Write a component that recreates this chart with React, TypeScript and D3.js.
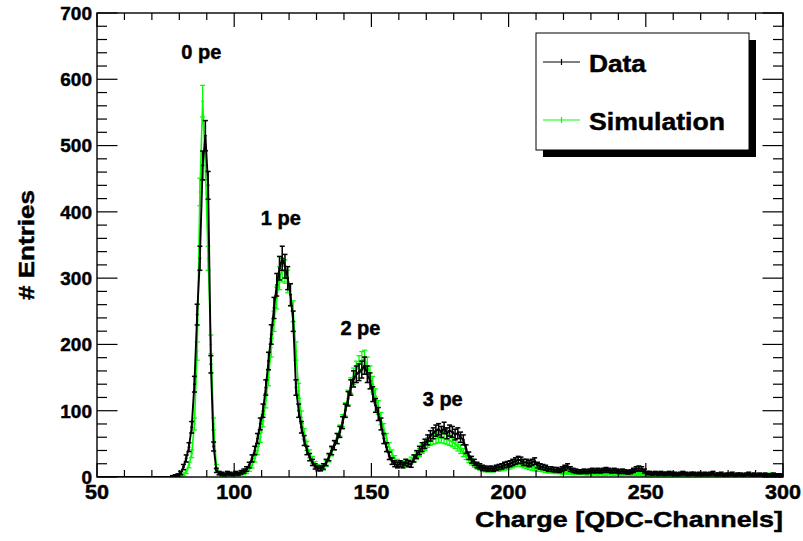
import React from "react";
import * as d3 from "d3";

// Histogram bins: channel 50 .. 299, bin width 1
const binStart = 50;
const binWidth = 1;

const dataCounts = [
  0, 0, 0, 0, 0, 0, 0, 0, 0, 0,
  0, 0, 0, 0, 0, 0, 0, 0, 0, 0,
  0, 0, 0, 0, 0, 0, 0, 1, 2, 3,
  6, 15, 28, 45, 75, 140, 245, 330, 470, 515,
  440, 170, 46, 10, 6, 5, 4, 6, 5, 4,
  6, 5, 7, 9, 12, 18, 28, 40, 58, 80,
  100, 135, 175, 215, 255, 290, 315, 330, 318, 300,
  275, 235, 135, 100, 75, 55, 40, 30, 22, 16,
  13, 13, 16, 22, 30, 40, 48, 58, 68, 82,
  100, 118, 135, 148, 155, 158, 162, 168, 155, 145,
  125, 108, 95, 80, 58, 45, 32, 24, 20, 18,
  20, 18, 22, 20, 19, 28, 34, 40, 45, 50,
  56, 62, 66, 70, 72, 68, 74, 66, 70, 68,
  64, 66, 60, 56, 42, 32, 26, 22, 18, 16,
  14, 13, 12, 13, 12, 14, 15, 16, 18, 19,
  20, 22, 24, 26, 25, 22, 22, 20, 22, 24,
  18, 16, 15, 14, 12, 12, 11, 11, 10, 12,
  14, 16, 12, 10, 9, 8, 8, 9, 8, 9,
  10, 9, 10, 9, 10, 11, 10, 9, 10, 9,
  8, 9, 8, 7, 8, 10, 12, 13, 12, 9,
  6, 6, 5, 6, 5, 6, 5, 5, 6, 5,
  5, 4, 5, 6, 5, 4, 5, 5, 4, 5,
  4, 5, 4, 5, 6, 4, 4, 5, 3, 4,
  4, 5, 3, 4, 4, 3, 4, 5, 3, 4,
  3, 4, 3, 4, 3, 3, 4, 3, 3, 3,
];

const simCounts = [
  0, 0, 0, 0, 0, 0, 0, 0, 0, 0,
  0, 0, 0, 0, 0, 0, 0, 0, 0, 0,
  0, 0, 0, 0, 0, 0, 0, 0, 1, 1,
  2, 4, 8, 18, 35, 80, 190, 430, 567, 470,
  330, 200, 80, 15, 5, 3, 3, 3, 4, 4,
  4, 4, 5, 6, 8, 12, 18, 28, 40, 60,
  85, 115, 150, 195, 235, 270, 300, 312, 310, 295,
  275, 250, 190, 130, 90, 65, 47, 35, 26, 19,
  15, 13, 14, 20, 28, 38, 48, 58, 70, 85,
  102, 120, 138, 152, 162, 170, 176, 178, 168, 155,
  140, 122, 105, 88, 72, 58, 45, 35, 27, 22,
  20, 19, 20, 22, 25, 28, 32, 37, 42, 47,
  52, 55, 57, 58, 60, 59, 58, 57, 55, 53,
  50, 46, 42, 37, 32, 27, 23, 19, 16, 14,
  12, 11, 11, 11, 11, 12, 12, 13, 14, 15,
  16, 18, 20, 21, 20, 18, 17, 15, 14, 13,
  12, 12, 11, 10, 9, 9, 8, 8, 8, 7,
  7, 7, 7, 6, 6, 6, 6, 6, 5, 6,
  5, 6, 5, 6, 5, 5, 6, 5, 5, 5,
  5, 4, 5, 5, 4, 5, 4, 5, 4, 4,
  4, 3, 4, 4, 3, 4, 3, 4, 3, 4,
  3, 4, 3, 3, 4, 3, 3, 4, 3, 3,
  3, 3, 4, 3, 3, 3, 4, 3, 3, 3,
  3, 3, 3, 4, 3, 3, 3, 3, 4, 3,
  3, 3, 3, 3, 3, 4, 3, 3, 3, 3,
];

const xTickLabels = [50, 100, 150, 200, 250, 300];
const yTickLabels = [0, 100, 200, 300, 400, 500, 600, 700];
const peakLabels = [
  { text: "0 pe", x: 88, y: 630 },
  { text: "1 pe", x: 117, y: 380 },
  { text: "2 pe", x: 146, y: 214 },
  { text: "3 pe", x: 176, y: 107 },
];
const legendEntries = [
  { label: "Data", color: "#000000" },
  { label: "Simulation", color: "#00ff00" },
];

const W = 803;
const H = 541;
const M = { left: 97, right: 783, top: 13, bottom: 477 };
const FONT = "'Liberation Sans', Arial, Helvetica, sans-serif";

const x = d3.scaleLinear().domain([50, 300]).range([M.left, M.right]);
const y = d3.scaleLinear().domain([0, 700]).range([M.bottom, M.top]);

type Bin = { lo: number; hi: number; c: number; v: number; e: number };

function makeBins(counts: number[]): Bin[] {
  return counts.map((v, i) => {
    const lo = binStart + i * binWidth;
    return { lo, hi: lo + binWidth, c: lo + binWidth / 2, v, e: Math.sqrt(v) };
  });
}

function Hist({ counts, color, lw }: { counts: number[]; color: string; lw: number }) {
  const bins = makeBins(counts);
  const line = d3
    .line<Bin>()
    .x((d) => x(d.c))
    .y((d) => y(d.v));
  const pts = [{ lo: 50, hi: 50, c: 50, v: 0, e: 0 }, ...bins];
  const cap = 2.5;
  return (
    <g>
      <path d={line(pts) || ""} fill="none" stroke={color} strokeWidth={lw} />
      {bins
        .filter((b) => b.v > 0)
        .map((b, i) => {
          const cx = x(b.c);
          const y0 = y(b.v - b.e);
          const y1 = y(b.v + b.e);
          return (
            <g key={i} stroke={color} strokeWidth={lw * 0.8}>
              <line x1={x(b.lo)} x2={x(b.hi)} y1={y(b.v)} y2={y(b.v)} />
              <line x1={cx} x2={cx} y1={y0} y2={y1} />
              <line x1={cx - cap} x2={cx + cap} y1={y0} y2={y0} />
              <line x1={cx - cap} x2={cx + cap} y1={y1} y2={y1} />
            </g>
          );
        })}
    </g>
  );
}

export default function App() {
  const xMinor = d3.range(50, 301, 10);
  const yMinor = d3.range(0, 701, 20);
  const xMaj = 14;
  const xMin = 7;
  const yMaj = 20.5;
  const yMin = 10;

  const legX = 536;
  const legY = 33;
  const legW = 213;
  const legH = 117;

  const textStroke = { stroke: "#000", strokeWidth: 0.45 };

  return (
    <svg
      width={W}
      height={H}
      style={{ position: "absolute", left: 0, top: 0, background: "#fff" }}
      fontFamily={FONT}
      fontWeight="bold"
    >
      <rect x={0} y={0} width={W} height={H} fill="#fff" />
      <defs>
        <clipPath id="frame">
          <rect x={M.left} y={M.top} width={M.right - M.left} height={M.bottom - M.top} />
        </clipPath>
      </defs>

      <g clipPath="url(#frame)">
        <Hist counts={simCounts} color="#00ff00" lw={1.6} />
        <Hist counts={dataCounts} color="#000000" lw={1.9} />
      </g>

      {/* frame */}
      <rect
        x={M.left}
        y={M.top}
        width={M.right - M.left}
        height={M.bottom - M.top}
        fill="none"
        stroke="#000"
        strokeWidth={1.4}
      />

      {/* ticks */}
      <g stroke="#000" strokeWidth={1.2}>
        {xMinor.map((t) => {
          const len = xTickLabels.includes(t) ? xMaj : xMin;
          return (
            <g key={"xt" + t}>
              <line x1={x(t)} x2={x(t)} y1={M.bottom} y2={M.bottom - len} />
              <line x1={x(t)} x2={x(t)} y1={M.top} y2={M.top + len} />
            </g>
          );
        })}
        {yMinor.map((t) => {
          const len = yTickLabels.includes(t) ? yMaj : yMin;
          return (
            <g key={"yt" + t}>
              <line x1={M.left} x2={M.left + len} y1={y(t)} y2={y(t)} />
              <line x1={M.right} x2={M.right - len} y1={y(t)} y2={y(t)} />
            </g>
          );
        })}
      </g>

      {/* tick labels */}
      <g fontSize={20} textAnchor="middle" fill="#000" {...textStroke}>
        {xTickLabels.map((t) => (
          <text
            key={"xl" + t}
            x={x(t)}
            y={499}
            textLength={String(t).length * 12}
            lengthAdjust="spacingAndGlyphs"
          >
            {t}
          </text>
        ))}
      </g>
      <g fontSize={19} textAnchor="end" fill="#000" {...textStroke}>
        {yTickLabels.map((t) => (
          <text key={"yl" + t} x={92} y={y(t) + 6.8}>
            {t}
          </text>
        ))}
      </g>

      {/* axis titles */}
      <text
        x={475}
        y={527}
        fontSize={22}
        textLength={308}
        lengthAdjust="spacingAndGlyphs"
        fill="#000"
        {...textStroke}
      >
        Charge [QDC-Channels]
      </text>
      <text
        transform={`translate(34, ${(M.top + M.bottom) / 2 - 55}) rotate(-90)`}
        fontSize={22}
        textAnchor="end"
        textLength={110}
        lengthAdjust="spacingAndGlyphs"
        fill="#000"
        {...textStroke}
      >
        # Entries
      </text>

      {/* peak labels */}
      <g fontSize={20} textAnchor="middle" fill="#000" {...textStroke}>
        {peakLabels.map((p) => (
          <text key={p.text} x={x(p.x)} y={y(p.y)}>
            {p.text}
          </text>
        ))}
      </g>

      {/* legend */}
      <rect x={legX + 7} y={legY + 7} width={legW} height={legH} fill="#000" />
      <rect x={legX} y={legY} width={legW} height={legH} fill="#fff" stroke="#000" strokeWidth={1} />
      {legendEntries.map((e, i) => {
        const ly = legY + 29 + i * 58;
        return (
          <g key={e.label}>
            <line x1={543} x2={580} y1={ly} y2={ly} stroke={e.color} strokeWidth={1.2} />
            <line x1={561.5} x2={561.5} y1={ly - 3} y2={ly + 3} stroke={e.color} strokeWidth={1.2} />
            <text
              x={589}
              y={ly + 10}
              fontSize={23}
              fill="#000"
              textLength={i === 0 ? 57 : 136}
              lengthAdjust="spacingAndGlyphs"
              {...textStroke}
            >
              {e.label}
            </text>
          </g>
        );
      })}
    </svg>
  );
}
